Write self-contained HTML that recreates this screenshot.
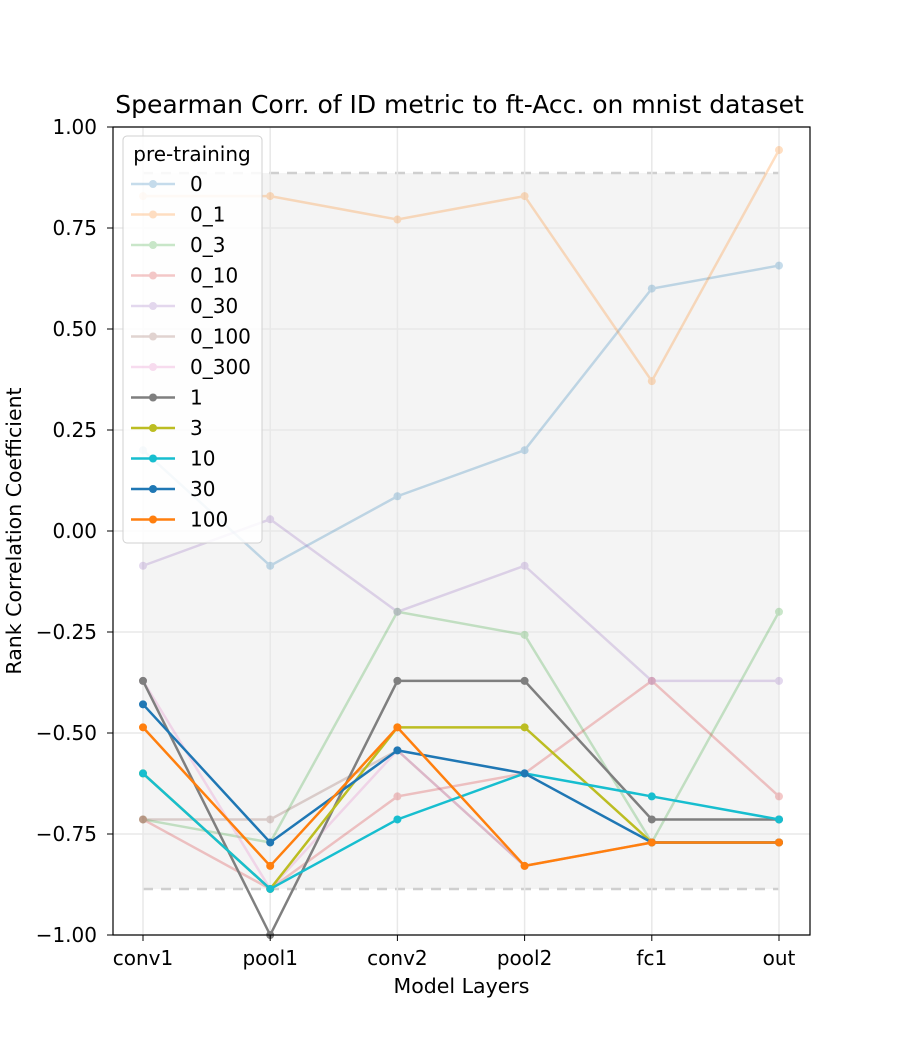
<!DOCTYPE html>
<html><head><meta charset="utf-8"><style>
body{margin:0;background:#fff;}
svg{font-family:"DejaVu Sans","Liberation Sans",sans-serif;}
</style></head><body>
<svg id="chart" width="900" height="1050">
<rect width="900" height="1050" fill="#fff"/>
<g id="plot"></g>
</svg>
<script>
const categories=["conv1","pool1","conv2","pool2","fc1","out"];
const seriesNames=["0","0_1","0_3","0_10","0_30","0_100","0_300","1","3","10","30","100"];
const s0=[0.2,-0.086,0.086,0.2,0.6,0.657];
const s0_1=[0.829,0.829,0.771,0.829,0.371,0.943];
const s0_3=[-0.714,-0.771,-0.2,-0.257,-0.771,-0.2];
const s0_10=[-0.714,-0.886,-0.657,-0.6,-0.371,-0.657];
const s0_30=[-0.086,0.029,-0.2,-0.086,-0.371,-0.371];
const s0_100=[-0.714,-0.714,-0.543,-0.829,-0.771,-0.771];
const s0_300=[-0.371,-0.886,-0.543,-0.829,-0.771,-0.771];
const s1=[-0.371,-1.0,-0.371,-0.371,-0.714,-0.714];
const s3=[-0.6,-0.886,-0.486,-0.486,-0.771,-0.771];
const s10=[-0.6,-0.886,-0.714,-0.6,-0.657,-0.714];
const s30=[-0.429,-0.771,-0.543,-0.6,-0.771,-0.771];
const s100=[-0.486,-0.829,-0.486,-0.829,-0.771,-0.771];
const yTicks=[1.0,0.75,0.5,0.25,0.0,-0.25,-0.5,-0.75,-1.0];
const yTickLabels=["1.00","0.75","0.50","0.25","0.00","\u22120.25","\u22120.50","\u22120.75","\u22121.00"];
const seriesValues=[s0,s0_1,s0_3,s0_10,s0_30,s0_100,s0_300,s1,s3,s10,s30,s100];
const colors=["#1f77b4","#ff7f0e","#2ca02c","#d62728","#9467bd","#8c564b","#e377c2","#7f7f7f","#bcbd22","#17becf","#1f77b4","#ff7f0e"];
const alphas=[0.25,0.25,0.25,0.25,0.25,0.25,0.25,1,1,1,1,1];

const L=113,R=810,T=127,B=935;
const x0=143,x1=779;
function xs(i){return x0+(x1-x0)*i/(categories.length-1);}
function ys(v){return T+(1-v)*(B-T)/2;}
const NS="http://www.w3.org/2000/svg";
const g=document.getElementById('plot');
function mk(tag,attrs,parent){const e=document.createElementNS(NS,tag);for(const k in attrs)e.setAttribute(k,attrs[k]);(parent||g).appendChild(e);return e;}

let band=mk('rect',{x:xs(0),y:ys(0.886),width:xs(5)-xs(0),height:ys(-0.886)-ys(0.886),fill:'#f4f4f4'});


[0.886,-0.886].forEach(v=>{
  let d=mk('line',{x1:xs(0),x2:xs(5),y1:ys(v),y2:ys(v),stroke:'#cfcfcf','stroke-width':2.5,'stroke-dasharray':'10,8'});
  
  
});
yTicks.forEach(v=>{let l=mk('line',{x1:L,x2:R,y1:ys(v),y2:ys(v),stroke:'#e8e8e8','stroke-width':1.5});

});
categories.forEach((c,i)=>{let l=mk('line',{x1:xs(i),x2:xs(i),y1:T,y2:B,stroke:'#e8e8e8','stroke-width':1.5});

});

seriesValues.forEach((vals,si)=>{
  const sg=mk('g',{opacity:alphas[si]});
  
  
  const pts=vals.map((v,i)=>xs(i)+','+ys(v)).join(' ');
  mk('polyline',{points:pts,fill:'none',stroke:colors[si],'stroke-width':2.5},sg);
  vals.forEach((v,i)=>{let c=mk('circle',{cx:xs(i),cy:ys(v),r:4,fill:colors[si]},sg);
    
    });
});

let fr=mk('rect',{x:L,y:T,width:R-L,height:B-T,fill:'none',stroke:'#000','stroke-width':1.2});


yTicks.forEach((v,i)=>{
  mk('line',{x1:L-6,x2:L,y1:ys(v),y2:ys(v),stroke:'#000'});
  let t=mk('text',{x:L-16,y:ys(v)+7,'text-anchor':'end','font-size':20,fill:'#000'});
  t.textContent=yTickLabels[i];
  
  
});
categories.forEach((c,i)=>{
  mk('line',{x1:xs(i),x2:xs(i),y1:B,y2:B+6,stroke:'#000'});
  let t=mk('text',{x:xs(i),y:B+30,'text-anchor':'middle','font-size':20,fill:'#000'});
  t.textContent=c;
  
  
});
let xt=mk('text',{x:(L+R)/2,y:993,'text-anchor':'middle','font-size':20.5});xt.textContent='Model Layers';


let yt=mk('text',{x:0,y:0,'text-anchor':'middle','font-size':20.5,transform:'translate(21,'+(T+B)/2+') rotate(-90)'});yt.textContent='Rank Correlation Coefficient';


let tt=mk('text',{x:(L+R)/2-2,y:113,'text-anchor':'middle','font-size':25});tt.textContent='Spearman Corr. of ID metric to ft-Acc. on mnist dataset';



const lg=mk('g',{});


mk('rect',{x:123,y:136,width:139,height:407,rx:4,fill:'#fff','fill-opacity':0.85,stroke:'#d0d0d0'},lg);
let lt=mk('text',{x:192,y:161,'text-anchor':'middle','font-size':20},lg);lt.textContent='pre-training';
seriesNames.forEach((n,si)=>{
  const y=184+si*30.5;
  const eg=mk('g',{opacity:alphas[si]},lg);
  
  
  mk('line',{x1:131,x2:175,y1:y,y2:y,stroke:colors[si],'stroke-width':2.5},eg);
  mk('circle',{cx:153,cy:y,r:4,fill:colors[si]},eg);
  let t=mk('text',{x:190,y:y+7,'font-size':20,fill:'#000'},lg);t.textContent=n;
});
</script>
</body></html>
